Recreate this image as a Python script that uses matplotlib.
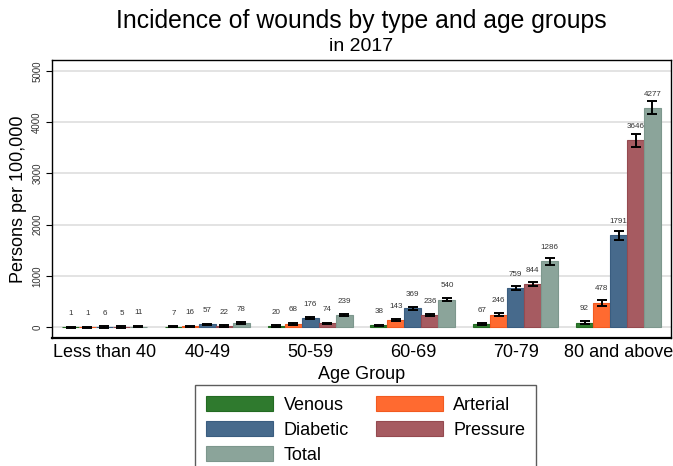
import numpy as np
import matplotlib.pyplot as plt

plt.rcParams['font.family'] = ['Liberation Sans', 'DejaVu Sans']

# 年齢群と創傷タイプ別の発生率（10万人あたり）
age_groups = ['Less than 40', '40-49', '50-59', '60-69', '70-79', '80 and above']
wound_types = ['Venous', 'Arterial', 'Diabetic', 'Pressure', 'Total']

venous = [1, 7, 20, 38, 67, 92]
arterial = [1, 16, 68, 143, 246, 478]
diabetic = [6, 57, 176, 369, 759, 1791]
pressure = [5, 22, 74, 236, 844, 3646]
total = [11, 78, 239, 540, 1286, 4277]

# 誤差（エラーバーの半幅）
venous_err = [12, 12, 14, 15, 18, 22]
arterial_err = [12, 13, 16, 20, 32, 55]
diabetic_err = [12, 15, 22, 28, 42, 88]
pressure_err = [12, 13, 16, 22, 45, 130]
total_err = [12, 16, 22, 30, 65, 125]

values = [venous, arterial, diabetic, pressure, total]
errors = [venous_err, arterial_err, diabetic_err, pressure_err, total_err]
colors = ['#2f7a2e', '#ff6a30', '#476a8c', '#a65b61', '#8ba49a']
edges = ['#236b22', '#f25a20', '#3a5d80', '#954a50', '#7d978d']

fig = plt.figure(figsize=(6.73, 4.66), dpi=100)
ax = fig.add_axes([0.0773, 0.2747, 0.9197, 0.5965])

x = np.arange(len(age_groups))
w = 0.165
bars = []
for i, (vals, errs) in enumerate(zip(values, errors)):
    pos = x + (i - 2) * w
    b = ax.bar(pos, vals, width=w, color=colors[i], edgecolor=edges[i],
               linewidth=0.8, label=wound_types[i], zorder=2)
    bars.append(b)
    ax.errorbar(pos, vals, yerr=errs, fmt='none', ecolor='black',
                elinewidth=1.4, capsize=3.4, capthick=1.4, zorder=3)
    for px, v in zip(pos, vals):
        ax.text(px, v + 200, str(v), ha='center', va='bottom',
                fontsize=5.8, color='#333333')

ax.set_xlim(-0.51, 5.51)
ax.set_ylim(-210, 5210)
ax.set_yticks([0, 1000, 2000, 3000, 4000, 5000])
ax.yaxis.grid(True, color='#e0e0e0', linewidth=1.3, zorder=0)
ax.set_axisbelow(True)
ax.set_xticks(x)
ax.set_xticklabels(age_groups, fontsize=13)
ax.tick_params(axis='x', length=0, pad=4)
ax.tick_params(axis='y', labelsize=7, labelrotation=90, length=4, pad=3,
               labelcolor='#333333')
for lbl in ax.get_yticklabels():
    lbl.set_va('center')
for s in ax.spines.values():
    s.set_linewidth(1.0)
ax.spines['bottom'].set_linewidth(1.6)

ax.set_ylabel('Persons per 100,000', fontsize=13, labelpad=4)
ax.set_xlabel('Age Group', fontsize=13, labelpad=4)

fig.text(0.537, 0.955, 'Incidence of wounds by type and age groups',
         ha='center', va='center', fontsize=17.8)
fig.text(0.537, 0.901, 'in 2017', ha='center', va='center', fontsize=14)

# 凡例は行方向に並べる（Venous, Arterial / Diabetic, Pressure / Total）
order = [0, 2, 4, 1, 3]
leg = fig.legend([bars[k] for k in order], [wound_types[k] for k in order],
                 ncol=2, loc='upper left',
                 bbox_to_anchor=(195 / 673, 1 - 385 / 466),
                 fontsize=13, frameon=True, fancybox=False,
                 edgecolor='#333333', handlelength=3.7, handleheight=0.95,
                 columnspacing=1.5, labelspacing=0.38, borderpad=0.6,
                 handletextpad=0.6, borderaxespad=0)
leg.get_frame().set_linewidth(1.0)

fig.savefig('out.png', dpi=100)
